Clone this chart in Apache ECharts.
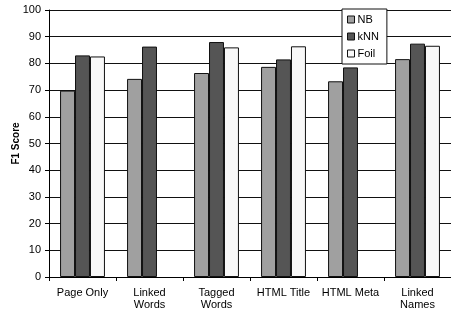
<!DOCTYPE html>
<html>
<head>
<meta charset="utf-8">
<script src="https://cdn.jsdelivr.net/npm/echarts@6/dist/echarts.min.js"></script>
<style>
  html, body { margin: 0; padding: 0; background: #fff; }
  #chart { width: 451px; height: 314px; }
</style>
</head>
<body>
<div id="chart"></div>
<script>
const categories = ['Page Only', 'Linked\nWords', 'Tagged\nWords', 'HTML Title', 'HTML Meta', 'Linked\nNames']
const nbScores = [69.8, 74.2, 76.4, 78.7, 73.3, 81.6]
const knnScores = [83.0, 86.3, 88.0, 81.5, 78.5, 87.4]
const foilScores = [82.6, null, 86.0, 86.4, null, 86.6]
const yTicks = { min: 0, max: 100, interval: 10 }

const font = 'Liberation Sans, Arial, sans-serif'

const chart = echarts.init(document.getElementById('chart'))

const barSeries = (name, data, color) => ({
  name,
  type: 'bar',
  data,
  barGap: '0%',
  barCategoryGap: '33%',
  itemStyle: {
    color,
    borderColor: '#111',
    borderWidth: 1,
  },
  emphasis: { disabled: true },
})

chart.setOption({
  animation: false,
  textStyle: { fontFamily: font },
  grid: { left: 49, right: 0, top: 10, bottom: 37, containLabel: false, outerBoundsMode: 'none' },
  legend: {
    orient: 'vertical',
    left: 342,
    top: 9,
    padding: [5, 8, 5, 5],
    icon: 'rect',
    itemWidth: 7,
    itemHeight: 7,
    itemGap: 6,
    backgroundColor: '#fff',
    borderColor: '#111',
    borderWidth: 1,
    textStyle: { fontSize: 11, color: '#000', fontFamily: font, padding: [0, 0, 0, -2] },
    itemStyle: { borderColor: '#111', borderWidth: 1 },
    data: ['NB', 'kNN', 'Foil'],
  },
  xAxis: {
    type: 'category',
    data: categories,
    axisLine: { lineStyle: { color: '#000', width: 1 } },
    axisTick: { show: true, length: 4, lineStyle: { color: '#000' } },
    axisLabel: { interval: 0, fontSize: 11, color: '#000', lineHeight: 12, margin: 10, fontFamily: font },
  },
  yAxis: {
    type: 'value',
    min: yTicks.min,
    max: yTicks.max,
    interval: yTicks.interval,
    name: 'F1 Score',
    nameLocation: 'middle',
    nameGap: 28,
    nameMoveOverlap: false,
    nameTextStyle: { fontSize: 10, fontWeight: 'bold', color: '#000', fontFamily: font },
    axisLine: { show: true, lineStyle: { color: '#000', width: 1 } },
    axisTick: { show: true, length: 4, lineStyle: { color: '#000' } },
    axisLabel: { fontSize: 11, color: '#000', margin: 8, fontFamily: font },
    splitLine: { show: true, lineStyle: { color: '#111', width: 1 } },
  },
  series: [
    barSeries('NB', nbScores, '#a0a0a0'),
    barSeries('kNN', knnScores, '#555555'),
    barSeries('Foil', foilScores, '#f8f8f8'),
  ],
})
</script>
</body>
</html>
